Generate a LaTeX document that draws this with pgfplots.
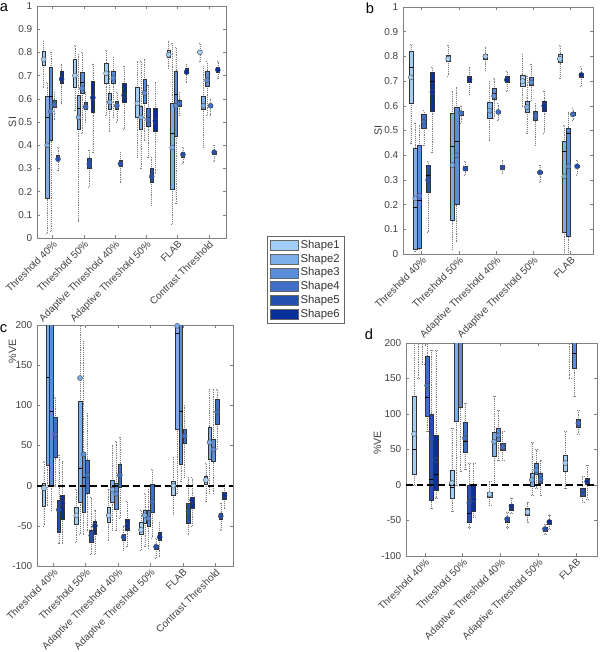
\documentclass[border=0pt]{standalone}
\usepackage{pgfplots}
\pgfplotsset{compat=1.18}
\usepgfplotslibrary{statistics}
\usepackage{fontspec}
\setmainfont{Liberation Sans}
\definecolor{s1}{HTML}{A3CFF6}
\definecolor{s2}{HTML}{7CAEE9}
\definecolor{s3}{HTML}{5B8EDA}
\definecolor{s4}{HTML}{3F6FC6}
\definecolor{s5}{HTML}{2450B2}
\definecolor{s6}{HTML}{0B2F98}
\newcommand\bxoff{0.115}
\expandafter\gdef\csname ml1\endcsname{}
\expandafter\gdef\csname ml2\endcsname{}
\expandafter\gdef\csname ml3\endcsname{}
\expandafter\gdef\csname ml4\endcsname{}
\expandafter\gdef\csname ml5\endcsname{}
\expandafter\gdef\csname ml6\endcsname{}
% #1 group, #2 shape, #3 lower whisker, #4 q1, #5 median, #6 q3, #7 upper whisker, #8 mean
\newcommand{\bx}[8]{%
 \pgfmathsetmacro\bxpos{#1+(#2-3.5)*\bxoff}%
 \edef\bxtmp{%
  \noexpand\addplot[forget plot, draw=black!80, fill=s#2, line width=0.35pt,
   boxplot prepared={draw direction=y, draw position=\bxpos, lower whisker=#3, lower quartile=#4,
   median=#5, upper quartile=#6, upper whisker=#7}] coordinates {};
 }\bxtmp
 \expandafter\xdef\csname ml#2\endcsname{\csname ml#2\endcsname (\bxpos,#8)}%
}
\newcommand{\means}{%
 \pgfplotsinvokeforeach{1,...,6}{%
  \edef\bxtmp{\noexpand\addplot[forget plot, only marks, mark=*, mark size=1.9pt,
   mark options={fill=s##1, draw=black!70, line width=0.3pt}] coordinates {\csname ml##1\endcsname};}\bxtmp
  \expandafter\gdef\csname ml##1\endcsname{}%
 }}
\pgfplotsset{
 panel/.style={scale only axis, anchor=north west, clip=true,
   axis line style={black!50}, tick style={black!50, line width=0.4pt}, major tick length=2.5pt,
   tick label style={font=\fontsize{7.5}{9}\selectfont, text=black!75},
   label style={font=\fontsize{8}{9}\selectfont, text=black!75},
   /pgf/number format/assume math mode=true,
   xticklabel style={rotate=45, anchor=north east, inner sep=1pt},
   boxplot/draw direction=y,
   boxplot/box extend=0.11, boxplot/whisker extend=0.05,
   boxplot/every whisker/.style={densely dotted, black!50, line width=0.4pt},
   boxplot/every median/.style={black, line width=0.6pt},
 },
}
\begin{document}
\begin{tikzpicture}
\path[use as bounding box] (0,0) rectangle (450pt,-489pt);
\node at (3pt,-5.6pt) {\fontsize{11}{13}\selectfont a};
\node at (277.5pt,-6pt) {\fontsize{11}{13}\selectfont b};
\node at (2.6pt,-246.8pt) {\fontsize{11}{13}\selectfont c};
\node at (276.8pt,-251pt) {\fontsize{11}{13}\selectfont d};

% ---------------- panel a
\begin{axis}[panel, at={(27.75pt,-4.5pt)}, width=141.75pt, height=174pt,
  xmin=0.5, xmax=6.55, ymin=0, ymax=1, ytick={0,0.1,...,1},
  yticklabel style={/pgf/number format/fixed, /pgf/number format/precision=1},
  xtick={1,...,6},
  xticklabels={Threshold 40\%, Threshold 50\%, Adaptive Threshold 40\%, Adaptive Threshold 50\%, FLAB, Contrast Threshold},
  ylabel={SI}, ylabel style={at={(axis description cs:-0.13,0.5)}, anchor=center}]
\bx{1}{1}{.65}{.745}{.77}{.805}{.85}{.77}
\bx{1}{2}{.02}{.17}{.52}{.61}{.67}{.40}
\bx{1}{3}{.03}{.42}{.61}{.735}{.80}{.545}
\bx{1}{4}{.51}{.565}{.58}{.595}{.63}{.575}
\bx{1}{5}{.29}{.335}{.345}{.355}{.39}{.34}
\bx{1}{6}{.58}{.665}{.69}{.72}{.75}{.685}
\bx{2}{1}{.55}{.65}{.70}{.77}{.83}{.70}
\bx{2}{2}{.07}{.47}{.56}{.615}{.79}{.52}
\bx{2}{3}{.45}{.625}{.67}{.715}{.80}{.645}
\bx{2}{4}{.50}{.555}{.57}{.585}{.63}{.565}
\bx{2}{5}{.22}{.30}{.32}{.345}{.38}{.32}
\bx{2}{6}{.37}{.54}{.61}{.675}{.75}{.605}
\bx{3}{1}{.53}{.665}{.71}{.755}{.81}{.71}
\bx{3}{2}{.46}{.555}{.585}{.625}{.72}{.585}
\bx{3}{3}{.52}{.665}{.69}{.72}{.78}{.69}
\bx{3}{4}{.50}{.555}{.57}{.59}{.63}{.57}
\bx{3}{5}{.24}{.31}{.32}{.335}{.37}{.32}
\bx{3}{6}{.47}{.585}{.615}{.665}{.74}{.615}
\bx{4}{1}{.35}{.52}{.58}{.65}{.76}{.58}
\bx{4}{2}{.30}{.47}{.52}{.57}{.76}{.52}
\bx{4}{3}{.42}{.58}{.63}{.685}{.77}{.625}
\bx{4}{4}{.35}{.48}{.52}{.56}{.66}{.51}
\bx{4}{5}{.14}{.24}{.265}{.30}{.35}{.265}
\bx{4}{6}{.28}{.46}{.51}{.56}{.67}{.505}
\bx{5}{1}{.73}{.78}{.79}{.81}{.85}{.79}
\bx{5}{2}{.06}{.21}{.45}{.58}{.84}{.39}
\bx{5}{3}{.15}{.44}{.62}{.72}{.82}{.57}
\bx{5}{4}{.53}{.57}{.58}{.595}{.63}{.58}
\bx{5}{5}{.32}{.35}{.36}{.37}{.39}{.36}
\bx{5}{6}{.67}{.71}{.72}{.73}{.75}{.715}
\bx{6}{1}{.76}{.795}{.80}{.81}{.84}{.80}
\bx{6}{2}{.39}{.555}{.575}{.61}{.74}{.57}
\bx{6}{3}{.53}{.655}{.685}{.72}{.76}{.68}
\bx{6}{4}{.53}{.565}{.57}{.575}{.60}{.57}
\bx{6}{5}{.33}{.36}{.37}{.375}{.40}{.37}
\bx{6}{6}{.69}{.715}{.725}{.735}{.76}{.725}
\means
\end{axis}

% ---------------- panel b
\begin{axis}[panel, at={(302.25pt,-5.25pt)}, width=142.5pt, height=185.25pt,
  xmin=0.5, xmax=5.6, ymin=0, ymax=1, ytick={0,0.1,...,1},
  yticklabel style={/pgf/number format/fixed, /pgf/number format/precision=1},
  xtick={1,...,5},
  xticklabels={Threshold 40\%, Threshold 50\%, Adaptive Threshold 40\%, Adaptive Threshold 50\%, FLAB},
  ylabel={SI}, ylabel style={at={(axis description cs:-0.13,0.5)}, anchor=center}]
\bx{1}{1}{.45}{.61}{.755}{.82}{.85}{.715}
\bx{1}{2}{.01}{.02}{.19}{.43}{.53}{.225}
\bx{1}{3}{.02}{.025}{.215}{.44}{.52}{.235}
\bx{1}{4}{.44}{.51}{.54}{.565}{.58}{.535}
\bx{1}{5}{.09}{.25}{.32}{.36}{.375}{.30}
\bx{1}{6}{.41}{.58}{.70}{.735}{.755}{.655}
\bx{2}{1}{.72}{.78}{.795}{.805}{.845}{.79}
\bx{2}{2}{.02}{.135}{.435}{.57}{.66}{.36}
\bx{2}{3}{.05}{.20}{.455}{.595}{.675}{.40}
\bx{2}{4}{.53}{.56}{.57}{.58}{.60}{.57}
\bx{2}{5}{.32}{.34}{.345}{.355}{.375}{.345}
\bx{2}{6}{.645}{.695}{.71}{.72}{.755}{.705}
\bx{3}{1}{.745}{.79}{.80}{.81}{.835}{.80}
\bx{3}{2}{.46}{.55}{.58}{.615}{.70}{.58}
\bx{3}{3}{.55}{.625}{.65}{.67}{.71}{.64}
\bx{3}{4}{.54}{.57}{.575}{.58}{.61}{.575}
\bx{3}{5}{.325}{.345}{.35}{.36}{.38}{.35}
\bx{3}{6}{.66}{.695}{.705}{.72}{.74}{.705}
\bx{4}{1}{.60}{.68}{.705}{.725}{.81}{.70}
\bx{4}{2}{.49}{.575}{.60}{.62}{.72}{.595}
\bx{4}{3}{.62}{.685}{.70}{.715}{.77}{.695}
\bx{4}{4}{.44}{.54}{.565}{.58}{.61}{.56}
\bx{4}{5}{.29}{.325}{.33}{.335}{.36}{.33}
\bx{4}{6}{.49}{.58}{.60}{.62}{.66}{.60}
\bx{5}{1}{.71}{.775}{.79}{.81}{.845}{.79}
\bx{5}{2}{0}{.09}{.415}{.455}{.52}{.315}
\bx{5}{3}{0}{.07}{.49}{.51}{.575}{.355}
\bx{5}{4}{.54}{.56}{.57}{.575}{.59}{.565}
\bx{5}{5}{.32}{.35}{.355}{.36}{.38}{.355}
\bx{5}{6}{.68}{.715}{.72}{.73}{.76}{.725}
\means
\end{axis}

% ---------------- panel c
\begin{axis}[panel, at={(27.75pt,-243.75pt)}, width=147pt, height=180.75pt,
  xmin=0.5, xmax=6.55, ymin=-100, ymax=200, ytick={-100,-50,...,200},
  xtick={1,...,6},
  xticklabels={Threshold 40\%, Threshold 50\%, Adaptive Threshold 40\%, Adaptive Threshold 50\%, FLAB, Contrast Threshold},
  ylabel={\%VE}, ylabel style={at={(axis description cs:-0.125,0.89)}, anchor=center}]
\bx{1}{1}{-50}{-25}{-3}{3}{30}{-3}
\bx{1}{2}{-25}{26}{135}{230}{250}{240}
\bx{1}{3}{-30}{0}{92}{230}{250}{240}
\bx{1}{4}{0}{35}{63}{85}{110}{64}
\bx{1}{5}{-72}{-58}{-30}{-18}{38}{-30}
\bx{1}{6}{-72}{-42}{-22}{-12}{30}{-22}
\bx{2}{1}{-70}{-48}{-37}{-27}{-5}{-37}
\bx{2}{2}{-60}{-20}{22}{105}{200}{134}
\bx{2}{3}{-60}{-33}{10}{40}{180}{39}
\bx{2}{4}{-55}{-10}{12}{32}{90}{13}
\bx{2}{5}{-85}{-70}{-62}{-55}{-15}{-62}
\bx{2}{6}{-85}{-60}{-50}{-44}{-30}{-50}
\bx{3}{1}{-68}{-45}{-36}{-27}{-5}{-37}
\bx{3}{2}{-55}{-20}{-5}{7}{50}{-5}
\bx{3}{3}{-55}{-29}{-10}{3}{55}{-10}
\bx{3}{4}{-40}{-2}{12}{27}{60}{13}
\bx{3}{5}{-80}{-68}{-64}{-61}{-50}{-64}
\bx{3}{6}{-75}{-56}{-50}{-42}{-20}{-50}
\bx{4}{1}{-80}{-60}{-56}{-46}{-30}{-55}
\bx{4}{2}{-75}{-47}{-38}{-30}{-10}{-37}
\bx{4}{3}{-78}{-50}{-42}{-30}{-5}{-41}
\bx{4}{4}{-65}{-33}{-20}{2}{20}{-20}
\bx{4}{5}{-90}{-79}{-76}{-74}{-65}{-76}
\bx{4}{6}{-88}{-68}{-64}{-58}{-45}{-64}
\bx{5}{1}{-35}{-12}{0}{5}{35}{0}
\bx{5}{2}{-10}{70}{190}{230}{250}{199}
\bx{5}{3}{5}{27}{93}{230}{250}{240}
\bx{5}{4}{10}{53}{62}{70}{100}{62}
\bx{5}{5}{-60}{-47}{-30}{-22}{10}{-32}
\bx{5}{6}{-50}{-28}{-18}{-15}{10}{-18}
\bx{6}{1}{-20}{2}{7}{12}{28}{7}
\bx{6}{2}{-10}{33}{53}{73}{120}{54}
\bx{6}{3}{-10}{30}{44}{58}{120}{45}
\bx{6}{4}{45}{77}{92}{107}{120}{92}
\bx{6}{5}{-55}{-42}{-38}{-34}{-22}{-38}
\bx{6}{6}{-28}{-17}{-12}{-8}{2}{-12}
\means
\addplot[forget plot, black, line width=1.3pt, dash pattern=on 5pt off 3pt] coordinates {(0.5,0) (6.55,0)};
\end{axis}

% ---------------- panel d
\begin{axis}[panel, at={(304.5pt,-257.25pt)}, width=143.25pt, height=159.75pt,
  xmin=0.5, xmax=5.55, ymin=-100, ymax=200, ytick={-100,-50,...,200},
  xtick={1,...,5},
  xticklabels={Threshold 40\%, Threshold 50\%, Adaptive Threshold 40\%, Adaptive Threshold 50\%, FLAB},
  ylabel={\%VE}, ylabel style={at={(axis description cs:-0.15,0.53)}, anchor=center}]
\bx{1}{1}{0}{15}{50}{125}{210}{72}
\bx{1}{2}{150}{220}{230}{240}{250}{235}
\bx{1}{3}{170}{220}{230}{240}{250}{235}
\bx{1}{4}{75}{97}{124}{182}{210}{140}
\bx{1}{5}{-33}{-22}{8}{100}{190}{65}
\bx{1}{6}{-18}{-7}{15}{70}{190}{35}
\bx{2}{1}{-37}{-18}{-4}{21}{80}{3}
\bx{2}{2}{0}{90}{220}{240}{250}{235}
\bx{2}{3}{20}{109}{220}{240}{250}{235}
\bx{2}{4}{22}{46}{62}{88}{115}{66}
\bx{2}{5}{-60}{-52}{-40}{0}{30}{-25}
\bx{2}{6}{-45}{-37}{-20}{0}{30}{-20}
\bx{3}{1}{-28}{-17}{-14}{-10}{5}{-13}
\bx{3}{2}{0}{41}{60}{75}{125}{61}
\bx{3}{3}{35}{62}{68}{80}{105}{70}
\bx{3}{4}{35}{49}{53}{59}{75}{53}
\bx{3}{5}{-60}{-52}{-48}{-45}{-38}{-48}
\bx{3}{6}{-40}{-35}{-30}{-27}{-18}{-30}
\bx{4}{1}{-52}{-42}{-38}{-33}{-25}{-38}
\bx{4}{2}{-15}{-2}{7}{17}{60}{7}
\bx{4}{3}{-5}{15}{22}{31}{50}{21}
\bx{4}{4}{-15}{2}{8}{17}{35}{8}
\bx{4}{5}{-70}{-65}{-62}{-60}{-55}{-62}
\bx{4}{6}{-62}{-55}{-52}{-50}{-42}{-52}
\bx{5}{1}{-5}{19}{30}{42}{75}{31}
\bx{5}{2}{150}{220}{230}{240}{250}{235}
\bx{5}{3}{125}{165}{185}{230}{250}{240}
\bx{5}{4}{72}{82}{87}{92}{105}{87}
\bx{5}{5}{-25}{-16}{-12}{-5}{12}{-12}
\bx{5}{6}{-20}{1}{5}{9}{28}{5}
\means
\addplot[forget plot, black, line width=1.3pt, dash pattern=on 5pt off 3pt] coordinates {(0.5,0) (5.55,0)};
\end{axis}

% ---------------- legend
\begin{axis}[hide axis, scale only axis, anchor=north west, at={(200.25pt,-177pt)},
  width=10pt, height=10pt, xmin=0, xmax=1, ymin=0, ymax=1,
  legend cell align=left,
  legend image code/.code={\draw[#1] (0pt,-3.8pt) rectangle (21pt,3.8pt);},
  legend style={at={(0,1)}, anchor=north west, draw=black!60, fill=white,
    font=\fontsize{8.5}{10}\selectfont, text=black!80, inner xsep=2pt, inner ysep=1.5pt,
    row sep=-0.6pt, nodes={inner sep=1.6pt}}]
\addlegendimage{fill=s1, draw=black!60}\addlegendentry{Shape1}
\addlegendimage{fill=s2, draw=black!60}\addlegendentry{Shape2}
\addlegendimage{fill=s3, draw=black!60}\addlegendentry{Shape3}
\addlegendimage{fill=s4, draw=black!60}\addlegendentry{Shape4}
\addlegendimage{fill=s5, draw=black!60}\addlegendentry{Shape5}
\addlegendimage{fill=s6, draw=black!60}\addlegendentry{Shape6}
\end{axis}
\end{tikzpicture}
\end{document}
